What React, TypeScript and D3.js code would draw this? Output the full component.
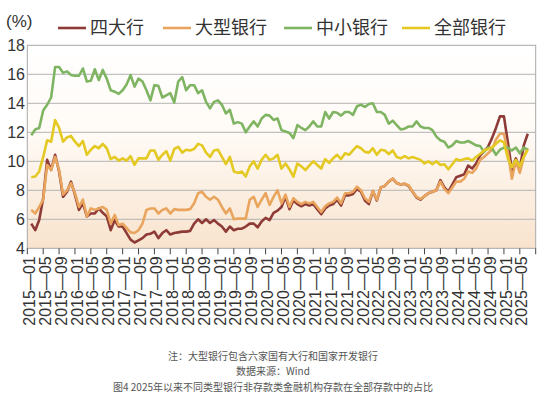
import * as d3 from "d3";

const tickLabels = [
  "2015—01", "2015—05", "2015—09", "2016—01", "2016—05", "2016—09",
  "2017—01", "2017—05", "2017—09", "2018—01", "2018—05", "2018—09",
  "2019—01", "2019—05", "2019—09", "2020—01", "2020—05", "2020—09",
  "2021—01", "2021—05", "2021—09", "2022—01", "2022—05", "2022—09",
  "2023—01", "2023—05", "2023—09", "2024—01", "2024—05", "2024—09",
  "2025—01", "2025—05",
];

const yTicks = [4, 6, 8, 10, 12, 14, 16, 18];

// 四大行
const bigFour = [
  5.7, 5.25, 5.95, 7.45, 10.1, 9.4, 10.45, 9.3, 7.55, 7.9,
  8.6, 7.7, 6.65, 7.1, 6.2, 6.4, 6.4, 6.75, 6.45, 6.2,
  5.25, 5.95, 5.5, 5.5, 5.05, 4.6, 4.4, 4.55, 4.7, 4.95,
  5.0, 5.15, 4.7, 5.05, 5.25, 4.95, 5.05, 5.1, 5.15, 5.15,
  5.2, 5.7, 6.0, 5.75, 6.0, 5.75, 5.95, 5.7, 5.5, 5.15,
  5.5, 5.25, 5.35, 5.35, 5.5, 5.7, 5.7, 5.45, 5.85, 6.1,
  5.95, 6.45, 6.6, 6.85, 7.55, 6.7, 7.3, 7.05, 6.9, 7.05,
  6.95, 7.05, 6.7, 6.35, 6.75, 6.95, 7.05, 7.35, 6.95, 7.65,
  7.65, 7.75, 8.1, 7.9, 7.3, 7.05, 7.95, 7.3, 8.2, 8.3,
  8.6, 8.8, 8.5, 8.4, 8.45, 8.3, 7.9, 7.5, 7.35, 7.6,
  7.8, 7.9, 8.0, 8.7, 8.2, 7.9, 8.4, 8.9, 9.0, 9.1,
  9.7, 9.5, 9.85, 10.4, 10.7, 11.0, 11.6, 12.3, 13.1, 13.1,
  11.3, 9.4, 10.2, 9.5, 11.1, 11.9,
];

// 大型银行
const largeBanks = [
  6.65, 6.4, 6.85, 7.35, 9.75, 9.4, 10.3, 9.4, 7.7, 8.0,
  8.5, 7.8, 6.85, 7.35, 6.2, 6.75, 6.65, 6.75, 6.85, 6.65,
  5.7, 6.3, 5.6, 5.7, 5.4, 5.1, 5.05, 5.25, 5.7, 6.65,
  6.75, 6.75, 6.4, 6.65, 6.75, 6.4, 6.7, 6.65, 6.65, 6.65,
  6.7, 7.1, 7.8, 7.9, 7.55, 7.35, 7.55, 7.35, 6.85, 6.4,
  6.75, 6.0, 6.05, 6.05, 6.05, 7.35, 7.55, 6.85, 7.35, 7.8,
  7.0, 7.55, 8.0, 7.1, 7.7, 6.85, 7.45, 7.2, 7.05, 7.2,
  7.1, 7.2, 6.85, 6.5, 6.9, 7.1, 7.2, 7.5, 7.1, 7.8,
  7.8, 7.9, 8.25, 8.0, 7.45, 7.2, 7.95, 7.35, 8.2, 8.3,
  8.6, 8.8, 8.5, 8.4, 8.45, 8.35, 7.9, 7.55, 7.4, 7.6,
  7.8, 7.9, 8.0, 8.6, 8.1, 7.8, 8.2, 8.6, 8.6, 8.8,
  9.3, 9.2, 9.5, 10.1, 10.3, 10.55, 10.8, 11.5, 11.9, 11.9,
  10.6, 8.8, 10.0, 9.2, 10.3, 10.9,
];

// 中小银行
const smallMedium = [
  11.8, 12.2, 12.3, 13.5, 13.9, 14.4, 16.5, 16.5, 16.1, 16.2,
  15.95, 15.9, 15.9, 16.4, 15.5, 15.55, 16.35, 15.6, 16.3, 15.7,
  14.9, 14.8, 14.65, 14.9, 15.3, 15.95, 15.15, 15.7, 15.5, 14.9,
  14.2, 15.25, 15.2, 14.4, 14.55, 14.7, 14.05, 15.5, 15.8, 14.9,
  15.25, 15.25, 14.7, 14.9, 14.1, 13.65, 14.1, 14.2, 13.9, 13.3,
  13.55, 12.6, 12.7, 12.6, 12.0, 12.4, 12.75, 12.4, 12.95, 13.2,
  13.15, 12.85, 12.95, 12.15, 12.05, 11.95, 11.6, 12.5, 12.3, 12.15,
  12.4, 12.75, 12.4, 12.4, 13.4, 12.95, 13.4, 13.35, 13.15, 13.4,
  13.4, 13.2, 13.8, 13.9, 13.75, 13.95, 14.0, 13.4, 13.4, 13.2,
  12.6, 12.8, 12.5, 12.2, 12.25, 12.4, 12.4, 12.75, 12.4, 12.3,
  12.3, 12.15, 11.7, 11.45, 11.35, 10.95, 11.1, 11.4, 11.3, 11.3,
  11.4, 11.25, 11.1, 11.05, 10.65, 10.95, 10.9, 10.45, 10.8, 10.95,
  10.95, 10.75, 10.95, 10.55, 10.95, 10.8,
];

// 全部银行
const allBanks = [
  8.9, 8.95, 9.3, 10.3, 11.45, 11.35, 12.85, 12.3, 11.35, 11.65,
  11.75, 11.35, 11.05, 11.4, 10.45, 10.8, 11.05, 10.9, 11.2, 10.9,
  10.15, 10.3, 10.05, 10.2, 10.05, 10.35, 9.75, 10.2, 10.2, 10.2,
  10.75, 10.75, 10.1, 10.45, 10.7, 10.05, 10.85, 11.0, 10.6, 10.8,
  10.75, 10.85, 11.2, 11.1, 10.6, 10.3, 10.75, 10.8, 10.3, 9.8,
  10.3, 9.3, 9.2, 9.3, 8.95, 9.65, 10.0, 9.5, 10.1, 10.45,
  10.1, 10.2, 10.45, 9.5, 9.85, 9.45, 8.95, 9.85, 9.65, 9.4,
  9.7, 10.0, 9.75, 9.5, 10.15, 9.9, 10.2, 10.45, 10.15, 10.55,
  10.45, 10.75, 11.05, 10.9, 10.65, 10.6, 10.9, 10.45, 10.8, 10.75,
  10.5, 10.75, 10.3, 10.2, 10.35, 10.2, 10.3, 10.2, 10.1, 9.85,
  10.0, 9.8, 10.0, 9.75, 9.8, 9.45, 9.8, 10.15, 10.05, 10.15,
  10.2, 10.05, 10.3, 10.5, 10.75, 10.85, 10.95, 11.2, 11.45, 11.3,
  10.2, 9.6, 10.1, 9.65, 10.3, 10.8,
];

const seriesNames = ["四大行", "大型银行", "中小银行", "全部银行"];
const seriesColors = ["#8e3a36", "#e9a55e", "#7fb562", "#e4c923"];
const seriesValues = [bigFour, largeBanks, smallMedium, allBanks];

const notes = [
  "注：大型银行包含六家国有大行和国家开发银行",
  "数据来源：Wind",
  "图4 2025年以来不同类型银行非存款类金融机构存款在全部存款中的占比",
];

export default function App() {
  const width = 553;
  const height = 399;
  const left = 27.3;
  const right = 535.7;
  const top = 45.3;
  const bottom = 248.3;

  // one unit = one month, 0 = 2015-01 tick
  const x = d3.scaleLinear().domain([0, 128]).range([left, right]);
  const y = d3.scaleLinear().domain([4, 18]).range([bottom, top]);
  const tickPos = d3.range(0, 129, 4);

  const line = d3.line<number>()
    .x((_, i) => x(i + 1))
    .y(d => y(d));

  const cjk = "'Noto Sans CJK SC', 'Noto Sans', sans-serif";
  const latin = "'Liberation Sans', Arial, sans-serif";

  const legendX = [58, 163, 284, 402];

  return (
    <svg width={width} height={height} style={{ position: "absolute", left: 0, top: 0 }}>
      <defs>
        <linearGradient id="bg" x1="0" y1="0" x2="0" y2="1">
          <stop offset="0" stopColor="#ffffff" />
          <stop offset="0.45" stopColor="#fffaf5" />
          <stop offset="1" stopColor="#f8e3cd" />
        </linearGradient>
      </defs>
      <rect x={0} y={0} width={width} height={height} fill="#fff" />

      {/* plot area */}
      <rect x={left} y={top} width={right - left} height={bottom - top} fill="url(#bg)" />
      {yTicks.slice(1, -1).map(t => (
        <line key={t} x1={left} x2={right} y1={y(t)} y2={y(t)} stroke="#b3b3b3" strokeWidth={1} />
      ))}
      <rect x={left} y={top} width={right - left} height={bottom - top} fill="none" stroke="#a8a8a8" strokeWidth={1} />

      {/* y labels */}
      {yTicks.map(t => (
        <text key={t} x={25} y={y(t)} dy="0.35em" textAnchor="end" fontSize={16}
          fontFamily={latin} fill="#333">{t}</text>
      ))}
      <text x={6} y={27} fontSize={17} fontFamily={latin} fill="#333">(%)</text>

      {/* x ticks and labels */}
      {tickPos.map(p => (
        <line key={p} x1={x(p)} x2={x(p)} y1={bottom} y2={bottom + 6} stroke="#444" strokeWidth={1} />
      ))}
      {tickLabels.map((lab, k) => (
        <text key={lab} transform={`translate(${x(tickPos[k]) + 2},${bottom + 8}) rotate(-90)`}
          dy="0.35em" textAnchor="end" fontSize={16} fontFamily={latin} fill="#333">{lab}</text>
      ))}

      {/* series */}
      {seriesValues.map((vals, i) => (
        <path key={seriesNames[i]} d={line(vals) || ""} fill="none" stroke={seriesColors[i]}
          strokeWidth={2.6} strokeLinejoin="round" />
      ))}

      {/* legend */}
      {seriesNames.map((name, i) => (
        <g key={name}>
          <line x1={legendX[i]} x2={legendX[i] + 28} y1={28} y2={28} stroke={seriesColors[i]} strokeWidth={2.6} />
          <text x={legendX[i] + 32} y={28} dy="0.36em" fontSize={18} fontFamily={cjk} fill="#333">{name}</text>
        </g>
      ))}

      {/* notes */}
      {notes.map((n, i) => (
        <text key={n} x={273} y={356 + i * 15.5} dy="0.35em" textAnchor="middle" fontSize={10}
          fontFamily={cjk} fill="#555">{n}</text>
      ))}
    </svg>
  );
}
